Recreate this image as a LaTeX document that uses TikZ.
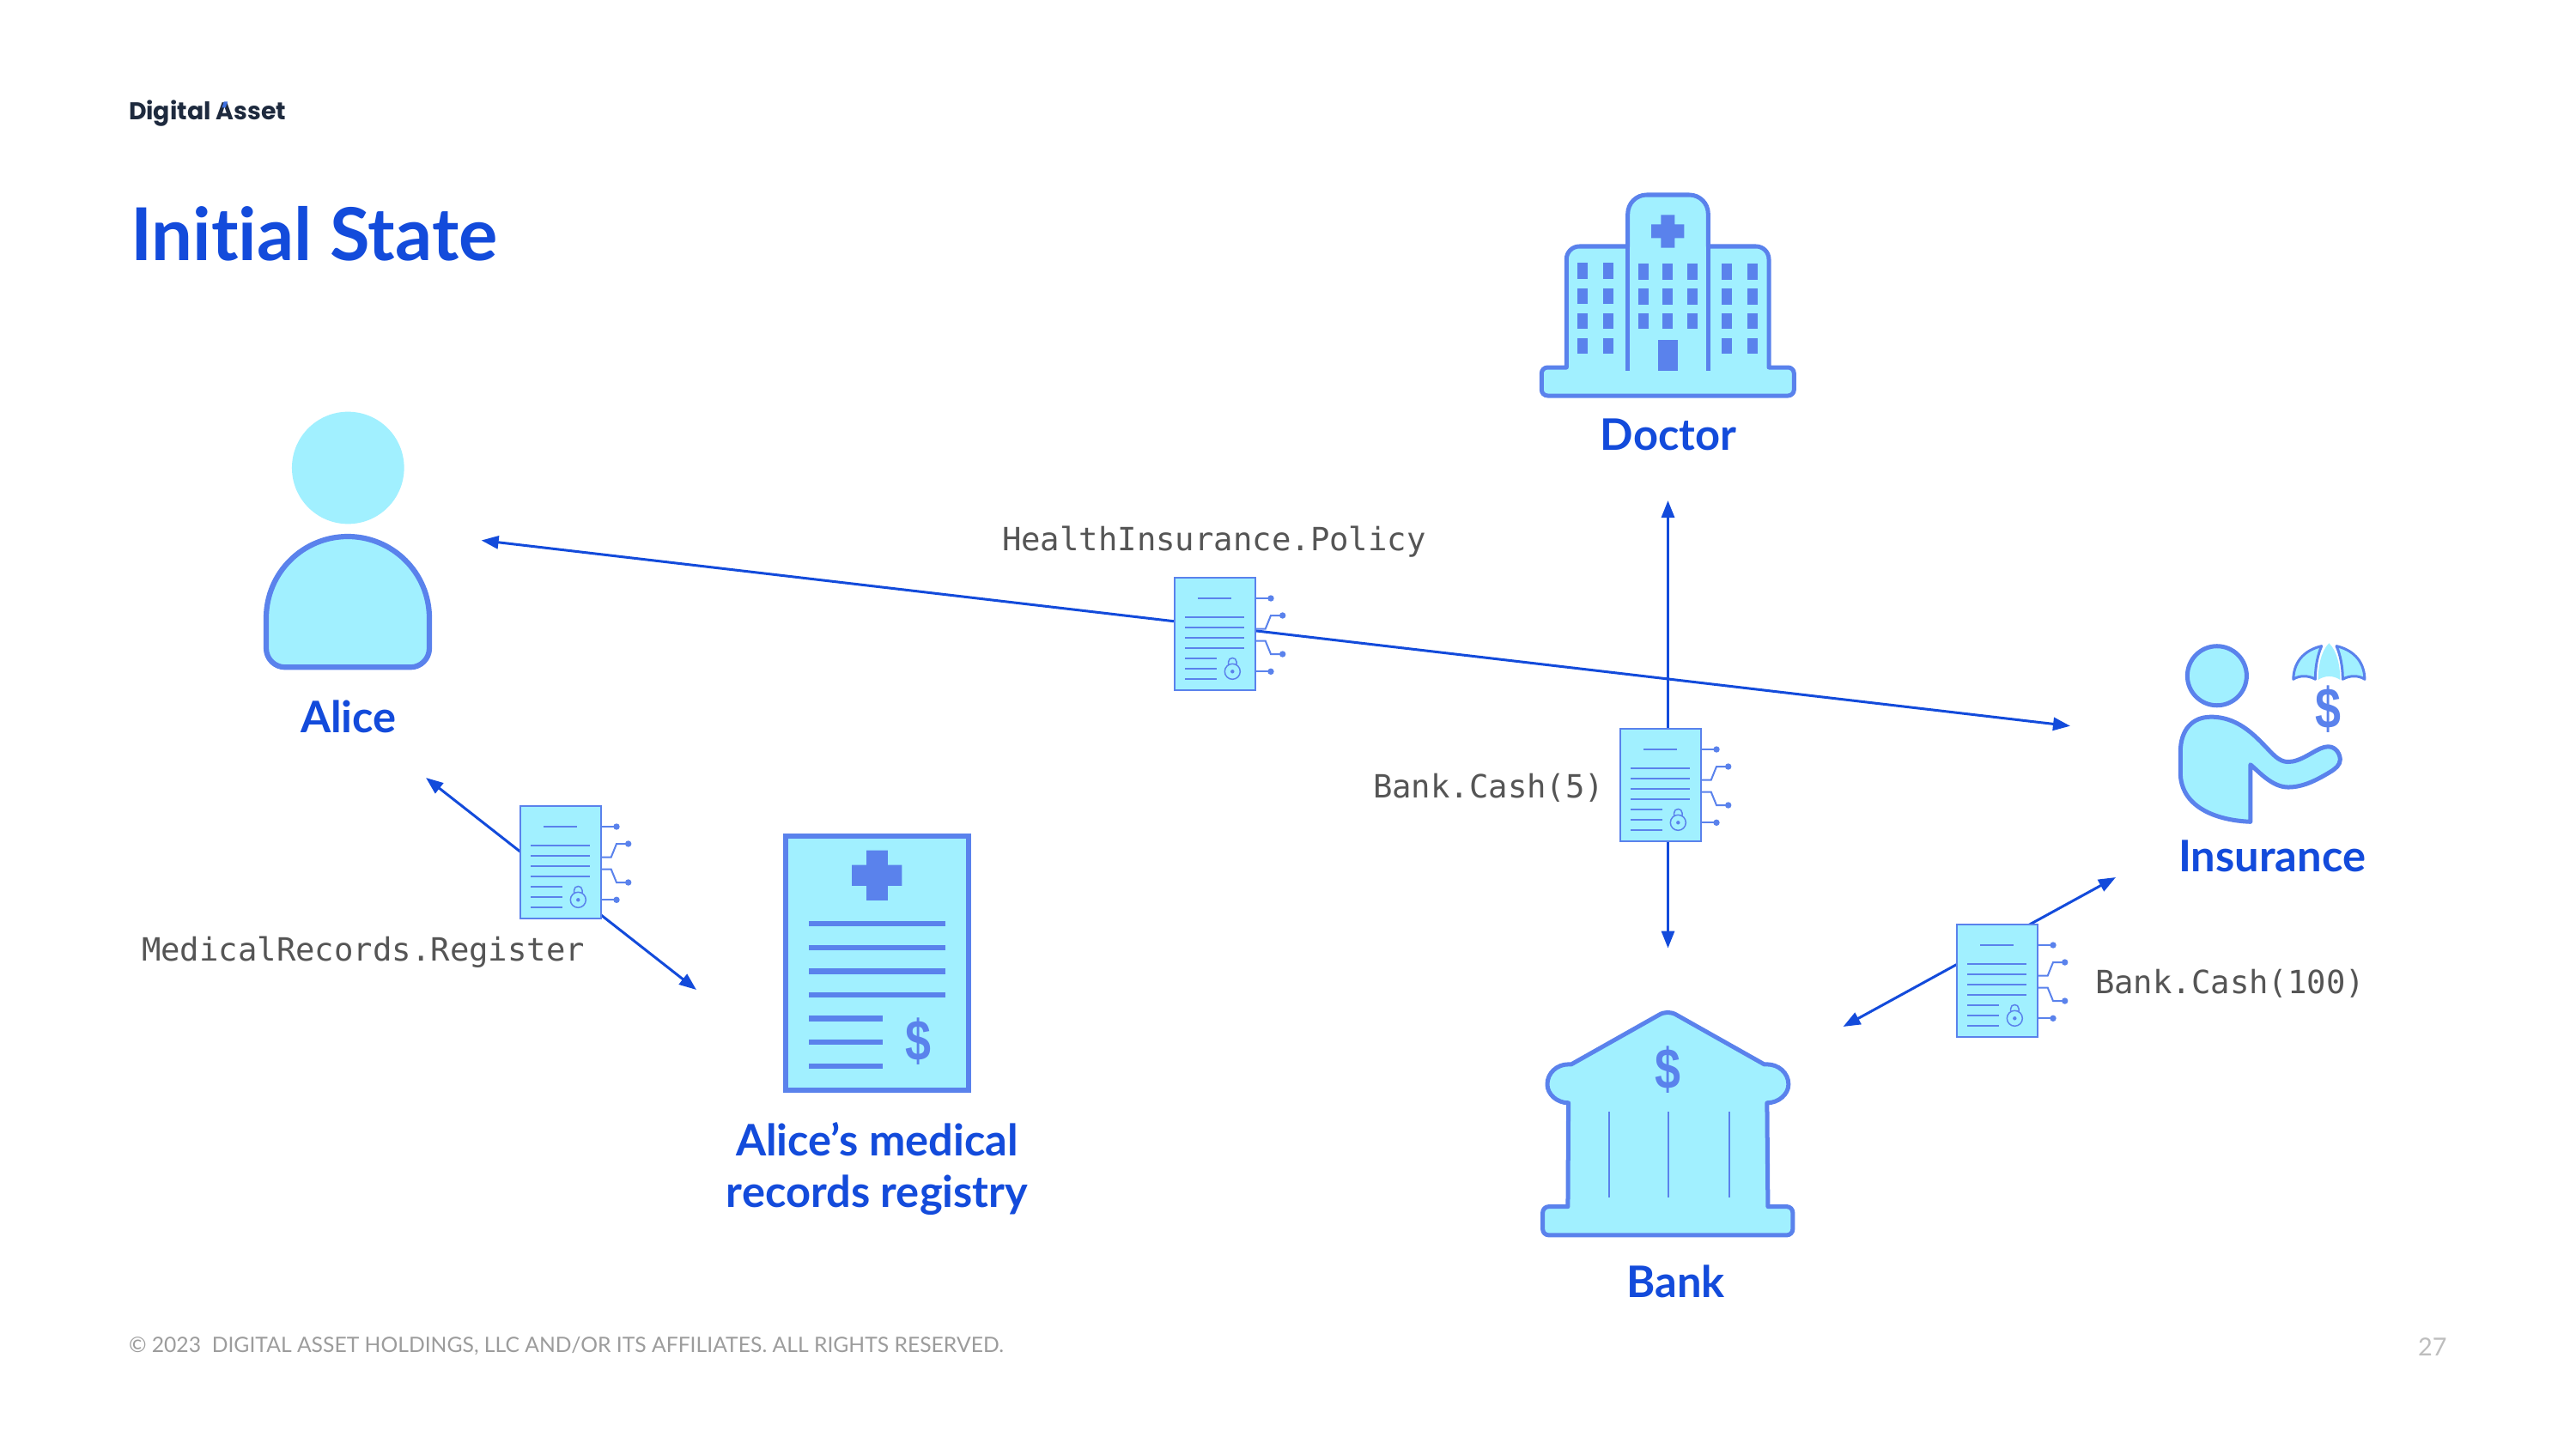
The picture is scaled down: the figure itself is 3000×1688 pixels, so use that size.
\documentclass[tikz,border=0pt]{standalone}
\usepackage{fontspec}
\setmainfont[Ligatures=NoCommon]{Lato}
\newfontfamily\monof{DejaVu Sans Mono}
\newfontfamily\logof{Poppins}
\newfontfamily\dollarf{Liberation Sans}
\usetikzlibrary{arrows.meta}
\definecolor{iconfill}{HTML}{A1F0FF}
\definecolor{iconline}{HTML}{5A82EC}
\definecolor{titleblue}{HTML}{134BDB}
\definecolor{monogrey}{HTML}{555555}
\definecolor{footgrey}{HTML}{9C9C9C}
\definecolor{pagegrey}{HTML}{BDBDBD}
\definecolor{logodark}{HTML}{1E2A3E}
\definecolor{logoblue}{HTML}{3E6FE0}
\tikzset{
  txt/.style={inner sep=0pt,outer sep=0pt},
  heading/.style={txt,anchor=base,text=titleblue,font=\fontsize{14.4}{16.8}\selectfont\bfseries,align=center},
  codelabel/.style={txt,anchor=base west,text=monogrey,font=\monof\fontsize{10.6}{13}\selectfont},
  conn/.style={draw=titleblue,line width=0.03cm,{Triangle[length=0.2cm,width=0.15cm]}-{Triangle[length=0.2cm,width=0.15cm]}},
  icon/.style={draw=iconline,fill=iconfill,line width=0.05cm,line join=round},
  solidblue/.style={fill=iconline,draw=none},
  dollarmark/.style={txt,anchor=center,text=iconline,font=\dollarf\bfseries\fontsize{17}{17}\selectfont},
  thin line/.style={draw=iconline,line width=0.02cm},
  docicon/.pic={
    \path[draw=iconline,fill=iconfill,line width=0.025cm] (0,0) rectangle (94,131);
    \draw[thin line] (27,24) -- (66,24);
    \foreach \yy in {45.5,57.5,69.5,81.5} \draw[thin line] (12,\yy) -- (81,\yy);
    \foreach \yy in {93.7,105.7,117.7} \draw[thin line] (12,\yy) -- (49,\yy);
    \draw[iconline,line width=0.015cm] (67.3,109.3) circle[radius=0.09cm];
    \draw[iconline,line width=0.015cm] (62.6,101) -- (62.6,98) .. controls (62.6,92) and (72,92) .. (72,98) -- (72,101);
    \fill[iconline] (67.3,109.3) circle[radius=0.022cm];
    \draw[thin line] (94,24) -- (112,24);
    \draw[thin line] (94,59.6) -- (105.7,59.6) -- (112,44) -- (125.7,44);
    \draw[thin line] (94,73.6) -- (105.7,73.6) -- (112,89) -- (125.7,89);
    \draw[thin line] (94,109.3) -- (112,109.3);
    \fill[iconline] (112,24) circle[radius=0.037cm] (125.7,44) circle[radius=0.037cm] (125.7,89) circle[radius=0.037cm] (112,109.3) circle[radius=0.037cm];
  }
}
\newcommand{\tallDollar}{\scalebox{0.9}[1.12]{\$}}
\begin{document}
\begin{tikzpicture}[x=0.01cm,y=-0.01cm]
\useasboundingbox (0,0) rectangle (3000,1688);
\fill[white] (0,0) rectangle (3000,1688);

% connector ends
\coordinate (policyL) at (560.6,629.5);
\coordinate (policyR) at (2411,845.7);
\coordinate (cash5T) at (1942.5,583);
\coordinate (cash5B) at (1942.5,1104.6);
\coordinate (recordsL) at (496,906);
\coordinate (recordsR) at (811,1153);
\coordinate (cash100L) at (2146.5,1196);
\coordinate (cash100R) at (2464,1022);
\draw[conn] (policyL) -- (policyR);
\draw[conn] (cash5T) -- (cash5B);
\draw[conn] (recordsL) -- (recordsR);
\draw[conn] (cash100L) -- (cash100R);

% contract icons
\pic (docPolicy) at (1368,673) {docicon};
\pic (docCash5) at (1887,849) {docicon};
\pic (docRecords) at (606,939) {docicon};
\pic (docCash100) at (2279,1077) {docicon};

% logo, title, footer
\node[txt,anchor=base west,text=logodark,font=\logof\bfseries\fontsize{8.05}{10}\selectfont] (logo) at (150,139.3) {Digital Asset};
\fill[logoblue] (260.7,118.5) -- (265,118.5) -- (262.7,125.5) -- (258.3,125.5) -- cycle;
\node[txt,anchor=base west,text=titleblue,font=\fontsize{24.15}{28}\selectfont\bfseries] (title) at (152,303) {Initial State};
\node[txt,anchor=base west,text=footgrey,font=\fontsize{7.02}{8}\selectfont] (foot) at (150,1575) {© 2023\ \ DIGITAL ASSET HOLDINGS, LLC AND/OR ITS AFFILIATES. ALL RIGHTS RESERVED.};
\node[txt,anchor=base west,text=pagegrey,font=\fontsize{8.2}{9}\selectfont] (page) at (2816,1579) {27};

% Alice
\fill[iconfill] (405.3,545) circle[radius=0.653cm];
\draw[icon,line width=0.062cm] (310,720) .. controls (310,667) and (353,625) .. (405,625) .. controls (457,625) and (500,667) .. (500,720)
  [rounded corners=0.22cm] -- (500,777.3) -- (310,777.3) [sharp corners] -- cycle;
\node[heading] (alice) at (406,853.5) {Alice};

% Doctor
\draw[icon] (1824.3,428) [rounded corners=0.15cm] -- (1824.3,287) [sharp corners] -- (1895.7,287) [rounded corners=0.22cm] -- (1895.7,227) -- (1989.3,227) [sharp corners] -- (1989.3,287) [rounded corners=0.15cm] -- (2060,287) [sharp corners] -- (2060,428) [rounded corners=0.07cm] -- (2089.3,428) -- (2089.3,461) -- (1795.3,461) -- (1795.3,428) [sharp corners] -- cycle;
\draw[iconline,line width=0.045cm] (1895.7,287) -- (1895.7,432) (1989.3,287) -- (1989.3,432);
\foreach \wx/\wy in {1837.3/306.3,1867.3/306.3,1837.3/335.7,1867.3/335.7,1837.3/364.7,1867.3/364.7,1837.3/393.7,1867.3/393.7,
  1907.7/307.3,1936.3/307.3,1965/307.3,1907.7/336,1936.3/336,1965/336,1907.7/364.7,1936.3/364.7,1965/364.7,
  2004.7/307,2034.7/307,2004.7/336,2034.7/336,2004.7/364.7,2034.7/364.7,2004.7/393.7,2034.7/393.7}
  \fill[iconline] (\wx,\wy) rectangle ++(12,18.5);
\fill[iconline] (1930.7,395.7) rectangle (1954.3,432.3);
\fill[iconline] (1934.3,250.3) rectangle (1950.3,288.7) (1923,261.3) rectangle (1961.3,277.3);
\node[heading] (doctor) at (1943,524) {Doctor};

% Insurance
\begin{scope}[shift={(2500,730)},x=0.003333cm,y=-0.003333cm]
  \draw[icon] (246,172) circle[radius=0.345cm];
  \draw[icon] (363,683) .. controls (240,678) and (118,630) .. (118,510)
    -- (118,440) .. controls (118,360) and (160,316) .. (225,316)
    .. controls (330,316) and (390,395) .. (440,445)
    .. controls (470,475) and (490,475) .. (510,472)
    .. controls (560,462) and (600,420) .. (635,420)
    .. controls (665,420) and (677,450) .. (677,465)
    .. controls (677,485) and (660,498) .. (640,510)
    .. controls (590,540) and (545,562) .. (495,562)
    .. controls (440,562) and (395,510) .. (363,483) -- cycle;
  \fill[iconfill] (638,58) .. controls (610,85) and (600,140) .. (600,186)
    .. controls (625,170) and (652,170) .. (677,186)
    .. controls (677,140) and (667,85) .. (638,58) -- cycle;
  \path[fill=iconfill,draw=iconline,line width=0.03cm,line join=round] (612,68) .. controls (560,80) and (515,115) .. (513,184)
    .. controls (535,170) and (565,170) .. (590,184) .. controls (590,140) and (598,100) .. (612,68) -- cycle;
  \path[fill=iconfill,draw=iconline,line width=0.03cm,line join=round] (664,68) .. controls (716,80) and (761,115) .. (763,184)
    .. controls (741,170) and (711,170) .. (686,184) .. controls (686,140) and (678,100) .. (664,68) -- cycle;
  \node[dollarmark] (dollarIns) at (635,289) {\tallDollar};
\end{scope}
\node[heading] (insurance) at (2646,1015.5) {Insurance};

% Bank
\begin{scope}[shift={(1780,1160)},x=0.003333cm,y=-0.003333cm]
  \draw[icon] (138,738) -- (140,375) .. controls (100,375) and (66,345) .. (66,310)
    .. controls (66,270) and (100,240) .. (140,240) -- (150,240) -- (455,68)
    .. controls (475,55) and (500,55) .. (520,68) -- (825,240) -- (835,240)
    .. controls (875,240) and (910,270) .. (910,310) .. controls (910,345) and (875,375) .. (835,375)
    -- (838,738) [rounded corners=0.07cm] -- (925,738) -- (925,838) -- (50,838) -- (50,738) [sharp corners] -- cycle;
  \draw[thin line] (282,406) -- (282,707) (491,406) -- (491,707) (702,406) -- (702,707);
  \node[dollarmark] (dollarBank) at (489,258) {\tallDollar};
\end{scope}
\node[heading] (bank) at (1951.5,1511) {Bank};

% Registry
\begin{scope}[shift={(890,950)},x=0.003333cm,y=-0.003333cm]
  \draw[draw=iconline,fill=iconfill,line width=0.06cm] (75,72) rectangle (715,963);
  \fill[iconline] (358,122) rectangle (432,297) (307,173) rectangle (482,246);
  \foreach \yy in {379,462,545,628} \fill[iconline] (155,\yy-9.5) rectangle (635,\yy+9.5);
  \foreach \yy in {711,794,877} \fill[iconline] (155,\yy-9.5) rectangle (415,\yy+9.5);
  \node[dollarmark] (dollarReg) at (538,790) {\tallDollar};
\end{scope}
\node[heading,anchor=base] (registry) at (1021.6,1406) {Alice’s medical\\records registry};

% code labels
\node[codelabel] (lblPolicy) at (1167,641) {HealthInsurance.Policy};
\node[codelabel] (lblCash5) at (1599,929) {Bank.Cash(5)};
\node[codelabel] (lblRecords) at (165,1119.5) {MedicalRecords.Register};
\node[codelabel] (lblCash100) at (2440,1157.5) {Bank.Cash(100)};
\end{tikzpicture}
\end{document}
